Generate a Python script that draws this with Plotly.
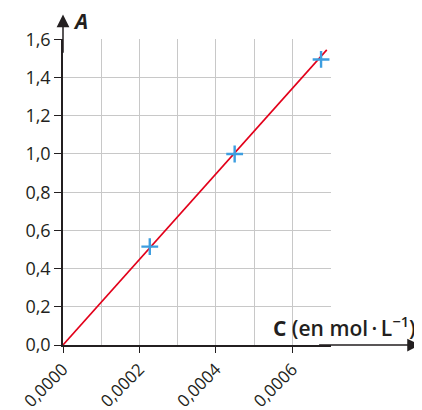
import plotly.graph_objects as go

# Data
conc = [0.000227, 0.000449, 0.000675]
absorb = [0.515, 1.0, 1.495]
fit_x = [0.0, 0.00069]
fit_y = [0.0, 1.545]
x_ticks = [0.0, 0.0002, 0.0004, 0.0006]
x_labels = ["0,0000", "0,0002", "0,0004", "0,0006"]
y_ticks = [0.0, 0.2, 0.4, 0.6, 0.8, 1.0, 1.2, 1.4, 1.6]
y_labels = ["0,0", "0,2", "0,4", "0,6", "0,8", "1,0", "1,2", "1,4", "1,6"]

ink = "#231f20"
grid = "#c8c8c8"
font = "Open Sans"

fig = go.Figure()
fig.add_trace(go.Scatter(x=fit_x, y=fit_y, mode="lines",
                         line=dict(color="#e2001a", width=1.6), hoverinfo="skip"))
fig.add_trace(go.Scatter(x=conc, y=absorb, mode="markers",
                         marker=dict(symbol="cross-thin", size=12,
                                     line=dict(color="#3d9ee0", width=2.4))))

# page body has an 8px default margin; size figure to fit the window
fig.update_layout(
    width=414, height=402,
    margin=dict(l=55, r=91, t=31, b=65, pad=0),
    paper_bgcolor="white", plot_bgcolor="white",
    showlegend=False,
    font=dict(family=font, size=18, color=ink),
    xaxis=dict(range=[0, 0.000701], tickvals=x_ticks, ticktext=x_labels,
               tickangle=-45, ticks="outside", ticklen=6, tickwidth=1.3, tickcolor=ink,
               showgrid=True, gridcolor=grid, gridwidth=1,
               minor=dict(dtick=0.0001, tick0=0, showgrid=True, gridcolor=grid, gridwidth=1),
               showline=True, linecolor=ink, linewidth=1.5, zeroline=False,
               automargin=False,
               tickfont=dict(family=font, size=17, color=ink)),
    yaxis=dict(range=[0, 1.602], tickvals=y_ticks, ticktext=y_labels,
               ticks="outside", ticklen=7, tickwidth=1.3, tickcolor=ink,
               showgrid=True, gridcolor=grid, gridwidth=1,
               showline=True, linecolor=ink, linewidth=1.5, zeroline=False,
               automargin=False,
               tickfont=dict(family=font, size=18, color=ink)),
)

# axis arrows
fig.add_annotation(xref="x domain", yref="y domain", x=1.332, y=0, ax=0.95, ay=0,
                   axref="x domain", ayref="y domain", showarrow=True, arrowhead=2,
                   arrowsize=1.7, arrowwidth=1.5, arrowcolor=ink, text="")
fig.add_annotation(xref="x domain", yref="y domain", x=0, y=1.08, ax=0, ay=0.95,
                   axref="x domain", ayref="y domain", showarrow=True, arrowhead=2,
                   arrowsize=1.7, arrowwidth=1.5, arrowcolor=ink, text="")
# axis titles
fig.add_annotation(xref="x domain", yref="y domain", x=0.03, y=1.06, xanchor="left", yanchor="middle",
                   text="<b><i>A</i></b>", showarrow=False,
                   font=dict(family=font, size=21, color=ink))
fig.add_annotation(xref="x domain", yref="y domain", x=1.325, y=0.062, xanchor="right", yanchor="middle",
                   text="<b>C</b> (en mol\u2009·\u2009L<sup>−1</sup>)", showarrow=False,
                   font=dict(family=font, size=21, color=ink, weight=600))

fig.write_html("out.html")
